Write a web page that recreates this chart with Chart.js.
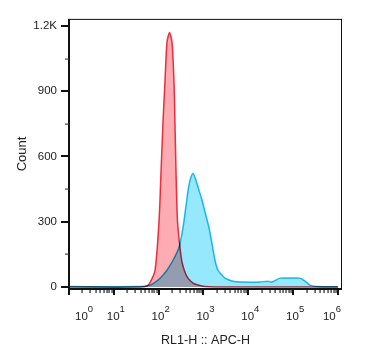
<!DOCTYPE html>
<html><head><meta charset="utf-8">
<script src="https://cdn.jsdelivr.net/npm/chart.js@4/dist/chart.umd.min.js"></script>
<style>html,body{margin:0;padding:0;background:#fff;}#wrap{width:369px;height:362px;}</style>
</head><body><div id="wrap"><canvas id="c" width="369" height="362"></canvas></div>
<script>
// Intensity (RL1-H :: APC-H) and Count for the two histograms
const redX  = [1, 38, 55, 64, 83, 102, 113, 125, 138, 153, 175, 199, 220, 231, 244, 263, 299, 332, 387, 451, 583, 755, 1081, 1807, 1000000];
const redY  = [0, 0, 5, 20, 77, 305, 532, 759, 941, 1123, 1170, 1123, 941, 759, 532, 305, 182, 114, 68, 41, 18, 9, 2, 0, 0];
const cyanX = [1, 38, 64, 97, 125, 153, 209, 284, 349, 407, 451, 500, 583, 681, 794, 927, 1081, 1327, 1549, 1807, 2109, 2588, 3020, 4550, 8433, 18200, 27480, 33730, 50930, 85110, 142200, 184100, 238200, 358100, 1000000];
const cyanY = [2, 2, 9, 32, 55, 77, 123, 182, 273, 373, 441, 490, 523, 490, 445, 400, 345, 273, 200, 123, 77, 55, 41, 27, 23, 23, 27, 23, 41, 41, 41, 27, 9, 2, 1];

// Axis ticks
const yTicks = [0, 300, 600, 900, 1200];
const yTickLabels = ['0', '300', '600', '900', '1.2K'];
const yMinorTicks = [150, 450, 750, 1050];
const xDecades = [0, 1, 2, 3, 4, 5, 6];
const xTickBase = '10';
const xMinorMultipliers = [2, 3, 4, 5, 6, 7, 8, 9];

const FONT = "'Liberation Sans', Arial, sans-serif";

const toPts = (xs, ys) => xs.map((x, i) => ({x: x, y: ys[i]}));

const blendPlugin = {
  id: 'blend',
  beforeDatasetsDraw(chart) { chart.ctx.save(); chart.ctx.globalCompositeOperation = 'multiply'; },
  afterDatasetsDraw(chart) { chart.ctx.restore(); }
};

const axesPlugin = {
  id: 'axesDraw',
  afterDraw(chart) {
    const ctx = chart.ctx, a = chart.chartArea;
    const xs = chart.scales.x, ys = chart.scales.y;
    ctx.save();
    ctx.fillStyle = '#111';
    // frame
    ctx.fillRect(a.left, a.top, a.right - a.left, 1);
    ctx.fillRect(a.right - 1, a.top, 1, a.bottom - a.top);
    ctx.fillRect(a.left - 1, a.top, 2, a.bottom - a.top + 1);
    ctx.fillRect(a.left - 1, a.bottom - 1, a.right - a.left + 1, 2);
    // y ticks
    yTicks.forEach(v => { const y = Math.round(ys.getPixelForValue(v)); ctx.fillRect(a.left - 8, y - 1, 8, 2); });
    ctx.fillStyle = '#444';
    yMinorTicks.forEach(v => { const y = Math.round(ys.getPixelForValue(v)); ctx.fillRect(a.left - 4, y - 0.5, 4, 1.2); });
    // x ticks
    ctx.fillStyle = '#111';
    xDecades.forEach(d => {
      const x = Math.round(xs.getPixelForValue(Math.pow(10, d)));
      ctx.fillRect(x - 1, a.bottom, 2, 6);
      if (d < 6) xMinorMultipliers.forEach(m => {
        const xm = xs.getPixelForValue(m * Math.pow(10, d));
        ctx.fillRect(Math.round(xm) - 0.5, a.bottom, 1.1, 4);
      });
    });
    // x tick labels with superscripts
    ctx.fillStyle = '#222';
    ctx.textBaseline = 'alphabetic';
    ctx.textAlign = 'left';
    xDecades.forEach(d => {
      const px = xs.getPixelForValue(Math.pow(10, d));
      ctx.font = '11.5px ' + FONT;
      const wb = ctx.measureText(xTickBase).width;
      ctx.font = '9.5px ' + FONT;
      const we = ctx.measureText(String(d)).width;
      let left = px - (wb + we) / 2 + 2;
      if (left < a.left + 6) left = a.left + 6;
      if (left + wb + we > a.right - 1) left = a.right - 1 - wb - we;
      ctx.font = '11.5px ' + FONT;
      ctx.fillText(xTickBase, left, 320);
      ctx.font = '9.5px ' + FONT;
      ctx.fillText(String(d), left + wb, 312);
    });
    ctx.restore();
  }
};

new Chart(document.getElementById('c'), {
  type: 'line',
  data: {
    datasets: [
      { label: 'Red', data: toPts(redX, redY), borderColor: 'rgb(236,56,70)', backgroundColor: 'rgb(252,172,178)',
        fill: 'origin', borderWidth: 1.5, pointRadius: 0, tension: 0.25 },
      { label: 'Cyan', data: toPts(cyanX, cyanY), borderColor: 'rgb(36,190,234)', backgroundColor: 'rgb(150,232,252)',
        fill: 'origin', borderWidth: 1.5, pointRadius: 0, tension: 0.25 }
    ]
  },
  options: {
    responsive: false, animation: false,
    layout: { padding: { top: 16, right: 27, left: 0, bottom: 0 } },
    plugins: { legend: { display: false }, tooltip: { enabled: false } },
    scales: {
      x: {
        type: 'logarithmic', min: 1, max: 1230000,
        grid: { display: false, drawTicks: false }, border: { display: false },
        ticks: { display: false },
        afterFit(s) { s.height = 73; },
        title: { display: true, text: 'RL1-H :: APC-H', color: '#222', font: { family: FONT, size: 12.5 }, padding: { top: 14, bottom: 14 } }
      },
      y: {
        type: 'linear', min: -9, max: 1232,
        grid: { display: false, drawTicks: false }, border: { display: false },
        afterBuildTicks(s) { s.ticks = yTicks.map(v => ({ value: v })); },
        ticks: { color: '#222', padding: 12, font: { family: FONT, size: 11.5 },
                 callback: (v) => { const i = yTicks.indexOf(v); return i >= 0 ? yTickLabels[i] : ''; } },
        afterFit(s) { s.width = 69; },
        title: { display: true, text: 'Count', color: '#222', font: { family: FONT, size: 13 }, padding: { top: 15, bottom: 15 } }
      }
    }
  },
  plugins: [blendPlugin, axesPlugin]
});
</script></body></html>
